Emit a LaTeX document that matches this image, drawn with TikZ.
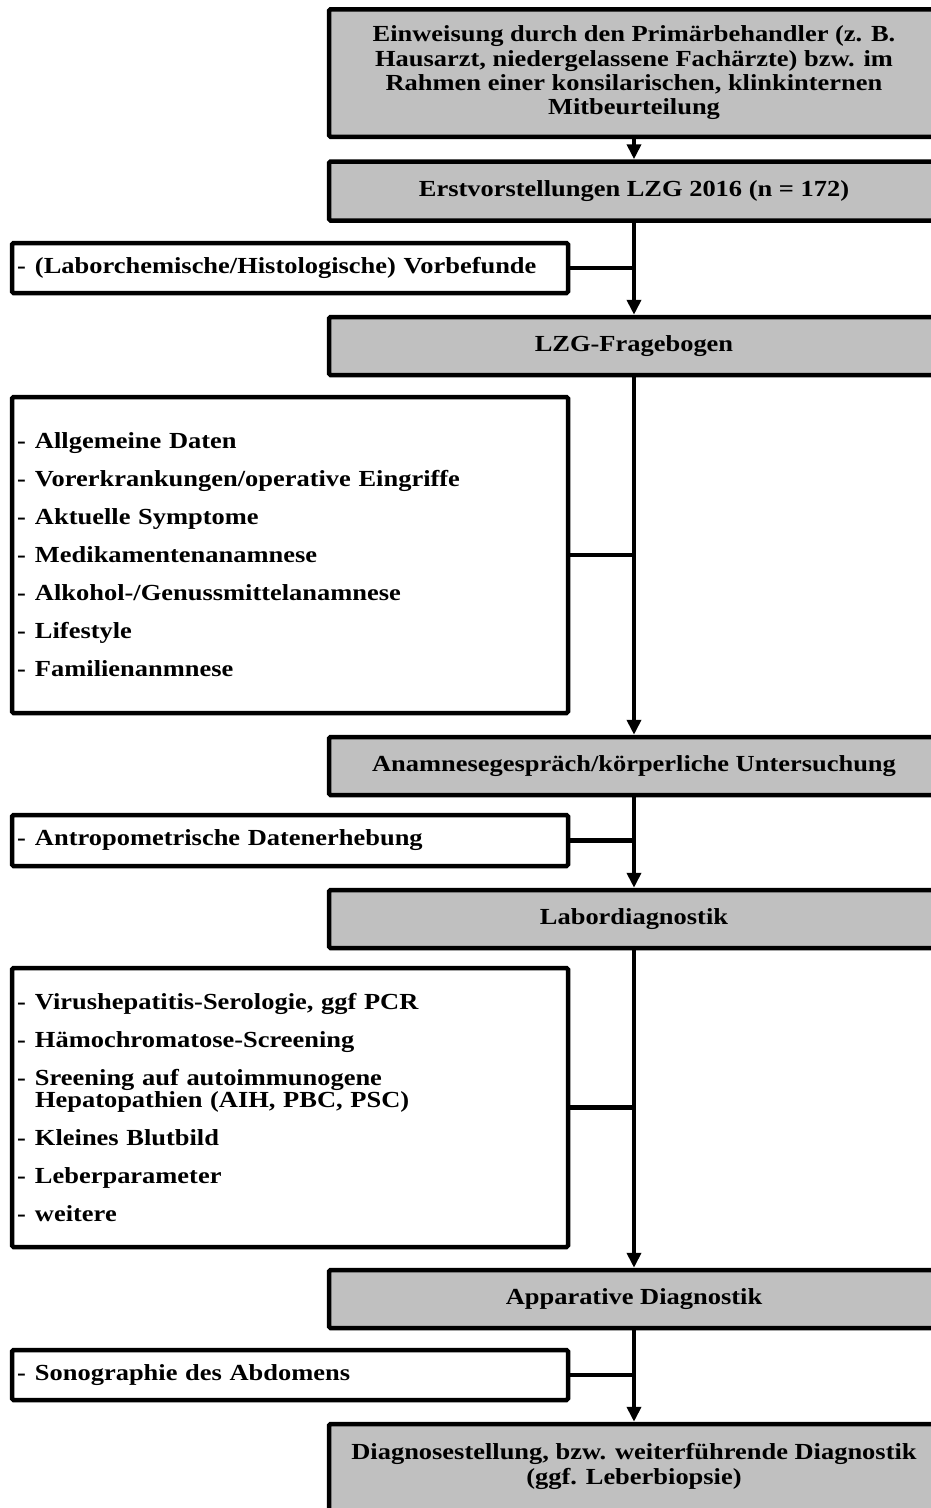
\documentclass[tikz,border=0pt]{standalone}
\usepackage{fontspec}
\setmainfont{Liberation Serif}[FakeStretch=1.15]
\usetikzlibrary{arrows.meta}
\definecolor{boxgray}{RGB}{192,192,192}
\begin{document}
\begin{tikzpicture}[x=1pt,y=-1pt,
  every node/.style={font=\bfseries\fontsize{23}{24.3}\selectfont},
  graybox/.style={draw, line width=4.5pt, fill=boxgray, minimum width=610pt, rounded corners=1.5pt, inner sep=0pt, align=center},
  listbox/.style={draw, line width=4.5pt, fill=white, minimum width=556pt, text width=546pt, inner xsep=5pt, inner ysep=0pt, rounded corners=1.5pt, align=left},
  flow/.style={line width=4.5pt, -{Triangle[width=14pt,length=15pt]}},
  joinline/.style={line width=4.5pt}]
\useasboundingbox (0,0) rectangle (931,1508);
\clip (0,0) rectangle (931,1508);
\fill[white] (0,0) rectangle (931,1508);

\node[graybox, minimum height=127.5pt] (einw) at (634,73) {Einweisung durch den Primärbehandler (z. B.\\Hausarzt, niedergelassene Fachärzte) bzw. im\\Rahmen einer konsilarischen, klinkinternen\\Mitbeurteilung};
\node[graybox, minimum height=59pt] (erst) at (634,191) {Erstvorstellungen LZG 2016 (n = 172)};
\node[listbox, minimum height=50pt] (vorb) at (290,268) {-\hspace{0.4em}(Laborchemische/Histologische) Vorbefunde};
\node[graybox, minimum height=58pt] (lzg) at (634,346) {LZG-Fragebogen};
\node[listbox, minimum height=316pt] (fb) at (290,555) {-\hspace{0.4em}Allgemeine Daten\\[13.7pt]
-\hspace{0.4em}Vorerkrankungen/operative Eingriffe\\[13.7pt]
-\hspace{0.4em}Aktuelle Symptome\\[13.7pt]
-\hspace{0.4em}Medikamentenanamnese\\[13.7pt]
-\hspace{0.4em}Alkohol-/Genussmittelanamnese\\[13.7pt]
-\hspace{0.4em}Lifestyle\\[13.7pt]
-\hspace{0.4em}Familienanmnese};
\node[graybox, minimum height=58pt] (anam) at (634,766) {Anamnesegespräch/körperliche Untersuchung};
\node[listbox, minimum height=51pt] (antro) at (290,840.5) {-\hspace{0.4em}Antropometrische Datenerhebung};
\node[graybox, minimum height=58pt] (labor) at (634,919) {Labordiagnostik};
\node[listbox, minimum height=279pt] (lablist) at (290,1107.5) {-\hspace{0.4em}Virushepatitis-Serologie, ggf PCR\\[13.7pt]
-\hspace{0.4em}Hämochromatose-Screening\\[13.7pt]
-\hspace{0.4em}Sreening auf autoimmunogene\\[-2pt]
\hphantom{-}\hspace{0.4em}Hepatopathien (AIH, PBC, PSC)\\[13.7pt]
-\hspace{0.4em}Kleines Blutbild\\[13.7pt]
-\hspace{0.4em}Leberparameter\\[13.7pt]
-\hspace{0.4em}weitere};
\node[graybox, minimum height=58pt] (appa) at (634,1299) {Apparative Diagnostik};
\node[listbox, minimum height=50pt] (sono) at (290,1375) {-\hspace{0.4em}Sonographie des Abdomens};
\node[graybox, minimum height=100pt, anchor=north] (diag) at (634,1421.75) {};
\node[align=center, font=\bfseries\fontsize{23}{25}\selectfont] (diagtext) at (634,1466) {Diagnosestellung, bzw. weiterführende Diagnostik\\(ggf. Leberbiopsie)};

\draw[flow] (einw) -- (erst);
\draw[flow] (erst) -- (lzg);
\draw[flow] (lzg) -- (anam);
\draw[flow] (anam) -- (labor);
\draw[flow] (labor) -- (appa);
\draw[flow] (appa) -- (diag);
\draw[joinline] (vorb.east) -- (vorb.east -| erst.south);
\draw[joinline] (fb.east) -- (fb.east -| lzg.south);
\draw[joinline] (antro.east) -- (antro.east -| anam.south);
\draw[joinline] (lablist.east) -- (lablist.east -| labor.south);
\draw[joinline] (sono.east) -- (sono.east -| appa.south);
\end{tikzpicture}
\end{document}
